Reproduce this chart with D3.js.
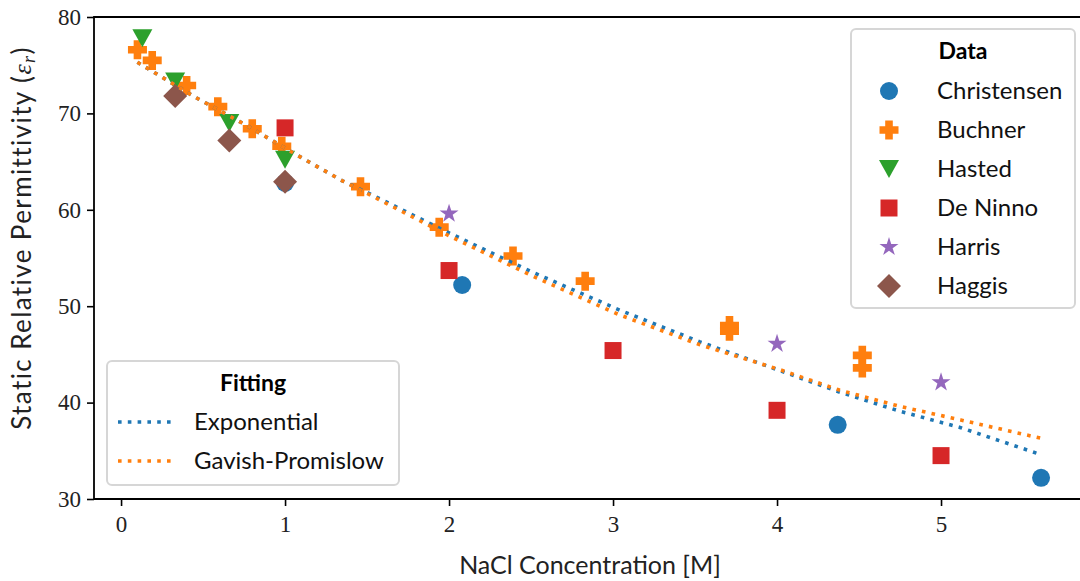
<!DOCTYPE html>
<html>
<head>
<meta charset="utf-8">
<script src="https://cdn.jsdelivr.net/npm/d3@7"></script>
<style>
  body { margin: 0; background: #fff; }
  svg { display: block; }
</style>
</head>
<body>
<div id="chart"></div>
<script>
// Mesures (concentration NaCl [M], permittivité relative)
const christensenX = [1.0, 2.08, 4.37, 5.61];
const christensenY = [62.8, 52.2, 37.7, 32.2];

const buchnerX = [0.10, 0.19, 0.40, 0.59, 0.80, 0.98, 1.46, 1.94, 2.39, 2.83, 3.71, 3.71, 4.52, 4.52];
const buchnerY = [76.6, 75.5, 72.9, 70.7, 68.4, 66.6, 62.4, 58.2, 55.2, 52.6, 48.0, 47.4, 44.9, 43.6];

const hastedX = [0.13, 0.33, 0.66, 1.0];
const hastedY = [77.8, 73.3, 69.0, 65.2];

const deNinnoX = [1.0, 2.0, 3.0, 4.0, 5.0];
const deNinnoY = [68.5, 53.7, 45.4, 39.2, 34.5];

const harrisX = [2.0, 4.0, 5.0];
const harrisY = [59.6, 46.1, 42.1];

const haggisX = [0.33, 0.66, 1.0];
const haggisY = [71.8, 67.2, 62.9];

// Courbes d'ajustement
const fitX = [0.10, 0.45, 0.75, 1.07, 1.35, 1.50, 2.00, 2.50, 3.04, 3.53, 4.02, 4.38, 4.75, 5.12, 5.61];
const expY = [75.3, 71.7, 68.9, 65.7, 63.0, 61.8, 57.6, 53.6, 49.6, 46.3, 43.3, 41.1, 39.1, 37.4, 34.6];
const gpY  = [75.3, 71.7, 68.9, 65.7, 63.0, 61.7, 57.3, 53.2, 49.1, 46.0, 43.4, 41.3, 39.6, 38.2, 36.3];

const xTicks = [0, 1, 2, 3, 4, 5];
const yTicks = [30, 40, 50, 60, 70, 80];

//---------------------------------------------------------------------------------------

const width = 1080;
const height = 581;
const plot = { left: 94, right: 1086, top: 17, bottom: 499 };

const sansFont = "Lato, 'Open Sans', sans-serif";
const serifFont = "'Liberation Serif', 'DejaVu Serif', serif";

const svg = d3.select("#chart")
  .append("svg")
  .attr("width", width)
  .attr("height", height);

const scaleX = d3.scaleLinear().domain([-0.165, 5.884]).range([plot.left, plot.right]);
const scaleY = d3.scaleLinear().domain([30, 80]).range([plot.bottom, plot.top]);

//---------------------------------------------------------------------------------------

// Formes des marqueurs
const symCircle = { draw(ctx, s) { ctx.arc(0, 0, s / 2, 0, 2 * Math.PI); } };
const symSquare = { draw(ctx, s) { ctx.rect(-s / 2, -s / 2, s, s); } };
const symDiamond = { draw(ctx, s) {
  const r = s / 2;
  ctx.moveTo(0, -r); ctx.lineTo(r, 0); ctx.lineTo(0, r); ctx.lineTo(-r, 0); ctx.closePath();
} };
const symTriDown = { draw(ctx, s) {
  const w = s / 2, h = s * 0.45;
  ctx.moveTo(-w, -h); ctx.lineTo(w, -h); ctx.lineTo(0, h); ctx.closePath();
} };
const symPlus = { draw(ctx, s) {
  const a = s / 2, b = s * 0.2;
  ctx.moveTo(-b, -a); ctx.lineTo(b, -a); ctx.lineTo(b, -b); ctx.lineTo(a, -b);
  ctx.lineTo(a, b); ctx.lineTo(b, b); ctx.lineTo(b, a); ctx.lineTo(-b, a);
  ctx.lineTo(-b, b); ctx.lineTo(-a, b); ctx.lineTo(-a, -b); ctx.lineTo(-b, -b); ctx.closePath();
} };
const symStar = { draw(ctx, s) {
  const R = s / 2, r = R * 0.38;
  for (let i = 0; i < 10; i++) {
    const rad = i % 2 === 0 ? R : r;
    const ang = -Math.PI / 2 + i * Math.PI / 5;
    const px = rad * Math.cos(ang), py = rad * Math.sin(ang);
    if (i === 0) ctx.moveTo(px, py); else ctx.lineTo(px, py);
  }
  ctx.closePath();
} };

const series = [
  { name: "Christensen", xs: christensenX, ys: christensenY, color: "#1f77b4", type: symCircle, size: 18 },
  { name: "Buchner", xs: buchnerX, ys: buchnerY, color: "#ff7f0e", type: symPlus, size: 19 },
  { name: "Hasted", xs: hastedX, ys: hastedY, color: "#2ca02c", type: symTriDown, size: 20 },
  { name: "De Ninno", xs: deNinnoX, ys: deNinnoY, color: "#d62728", type: symSquare, size: 17 },
  { name: "Harris", xs: harrisX, ys: harrisY, color: "#9467bd", type: symStar, size: 20 },
  { name: "Haggis", xs: haggisX, ys: haggisY, color: "#8c564b", type: symDiamond, size: 24 }
];

const fits = [
  { name: "Exponential", ys: expY, color: "#1f77b4" },
  { name: "Gavish-Promislow", ys: gpY, color: "#ff7f0e" }
];

//---------------------------------------------------------------------------------------

// Axes
const xAxis = svg.append("g")
  .attr("transform", `translate(0, ${plot.bottom})`)
  .call(d3.axisBottom(scaleX).tickValues(xTicks).tickFormat(d3.format("d"))
    .tickSize(7).tickPadding(10).tickSizeOuter(0));
const yAxis = svg.append("g")
  .attr("transform", `translate(${plot.left}, 0)`)
  .call(d3.axisLeft(scaleY).tickValues(yTicks).tickFormat(d3.format("d"))
    .tickSize(7).tickPadding(6).tickSizeOuter(0));

[xAxis, yAxis].forEach(g => {
  g.select(".domain").remove();
  g.selectAll(".tick line").attr("stroke", "#000").attr("stroke-width", 1.6);
  g.selectAll(".tick text")
    .attr("fill", "#222")
    .style("font-family", serifFont)
    .style("font-size", "23px");
});

//---------------------------------------------------------------------------------------

// Nuages de points
series.forEach(s => {
  svg.append("g")
    .selectAll("path")
    .data(s.xs.map((x, i) => ({ x, y: s.ys[i] })))
    .join("path")
    .attr("transform", d => `translate(${scaleX(d.x)}, ${scaleY(d.y)})`)
    .attr("d", d3.symbol().type(s.type).size(s.size))
    .attr("fill", s.color);
});

// Courbes d'ajustement (en pointillés)
const line = d3.line()
  .x(d => scaleX(d.x))
  .y(d => scaleY(d.y));

fits.forEach(f => {
  svg.append("path")
    .datum(fitX.map((x, i) => ({ x, y: f.ys[i] })))
    .attr("d", line)
    .attr("fill", "none")
    .attr("stroke", f.color)
    .attr("stroke-width", 3.6)
    .attr("stroke-dasharray", "3.6 6.2");
});

// Cadre (spines)
svg.append("path")
  .attr("d", `M${plot.right},${plot.top}H${plot.left}V${plot.bottom}H${plot.right}`)
  .attr("fill", "none")
  .attr("stroke", "#000")
  .attr("stroke-width", 1.8);

//---------------------------------------------------------------------------------------

// Titres des axes
svg.append("text")
  .attr("x", 590)
  .attr("y", 574)
  .attr("text-anchor", "middle")
  .style("font-family", sansFont)
  .style("font-size", "25px")
  .attr("fill", "#222")
  .text("NaCl Concentration [M]");

const yLab = svg.append("text")
  .attr("transform", "translate(31, 238) rotate(-90)")
  .attr("text-anchor", "middle")
  .style("font-family", sansFont)
  .style("font-size", "26px")
  .style("letter-spacing", "1.4px")
  .attr("fill", "#222");
yLab.append("tspan").text("Static Relative Permittivity (");
yLab.append("tspan").style("font-family", serifFont).style("font-style", "italic").text("ε");
yLab.append("tspan").style("font-family", serifFont).style("font-style", "italic")
  .style("font-size", "18px").attr("dy", 4).text("r");
yLab.append("tspan").attr("dy", -4).text(")");

//---------------------------------------------------------------------------------------

// Légende des données
const legData = svg.append("g");
legData.append("rect")
  .attr("x", 851).attr("y", 29).attr("width", 224).attr("height", 279)
  .attr("rx", 5)
  .attr("fill", "rgba(255,255,255,0.8)")
  .attr("stroke", "#d6d6d6").attr("stroke-width", 2);
legData.append("text")
  .attr("x", 963).attr("y", 59)
  .attr("text-anchor", "middle")
  .style("font-family", sansFont).style("font-size", "23px").style("font-weight", "bold")
  .attr("fill", "#000")
  .text("Data");
series.forEach((s, i) => {
  const yRow = 91 + i * 39;
  legData.append("path")
    .attr("transform", `translate(889, ${yRow})`)
    .attr("d", d3.symbol().type(s.type).size(s.size))
    .attr("fill", s.color);
  legData.append("text")
    .attr("x", 937).attr("y", yRow + 8)
    .style("font-family", sansFont).style("font-size", "24px")
    .attr("fill", "#111")
    .text(s.name);
});

// Légende des ajustements
const legFit = svg.append("g");
legFit.append("rect")
  .attr("x", 107).attr("y", 361).attr("width", 292).attr("height", 124)
  .attr("rx", 5)
  .attr("fill", "rgba(255,255,255,0.8)")
  .attr("stroke", "#d6d6d6").attr("stroke-width", 2);
legFit.append("text")
  .attr("x", 253).attr("y", 391)
  .attr("text-anchor", "middle")
  .style("font-family", sansFont).style("font-size", "23px").style("font-weight", "bold")
  .attr("fill", "#000")
  .text("Fitting");
fits.forEach((f, i) => {
  const yRow = 422 + i * 39;
  legFit.append("line")
    .attr("x1", 118).attr("x2", 173).attr("y1", yRow).attr("y2", yRow)
    .attr("stroke", f.color).attr("stroke-width", 3.6)
    .attr("stroke-dasharray", "3.6 6.2");
  legFit.append("text")
    .attr("x", 194).attr("y", yRow + 8)
    .style("font-family", sansFont).style("font-size", "24px")
    .attr("fill", "#111")
    .text(f.name);
});
</script>
</body>
</html>
